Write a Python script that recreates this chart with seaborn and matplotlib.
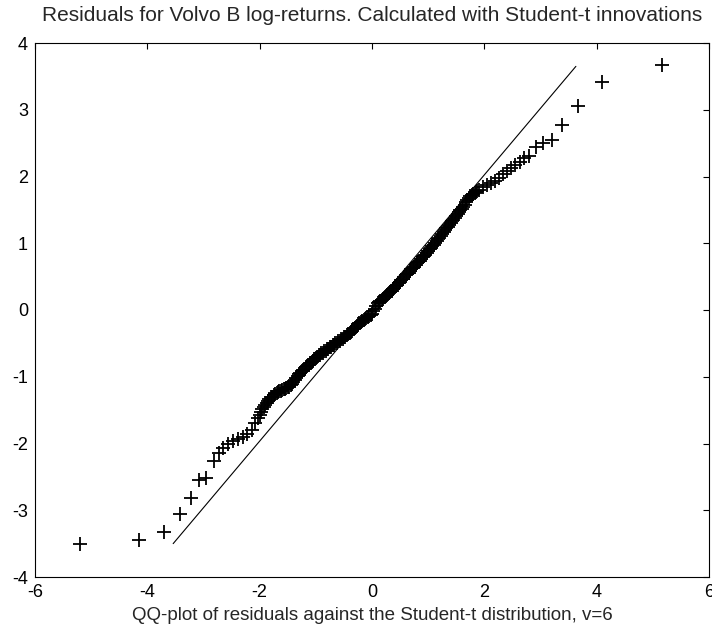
import matplotlib
matplotlib.use("Agg")
import matplotlib.pyplot as plt
import seaborn as sns
import pandas as pd

# Theoretical Student-t quantiles (v=6) and the sorted residuals paired with them
lower_x = [-5.20, -4.14, -3.70, -3.41, -3.23, -3.08, -2.95, -2.82, -2.73, -2.65,
           -2.56, -2.47, -2.38, -2.29, -2.22, -2.14, -2.08, -2.03]
lower_y = [-3.50, -3.45, -3.33, -3.06, -2.82, -2.54, -2.52, -2.26, -2.14, -2.06,
           -2.01, -1.97, -1.94, -1.91, -1.86, -1.80, -1.70, -1.62]

center_x = [-2.000, -1.975, -1.950, -1.925, -1.900, -1.875, -1.850, -1.825, -1.800, -1.775,
            -1.750, -1.725, -1.700, -1.675, -1.650, -1.625, -1.600, -1.575, -1.550, -1.525,
            -1.500, -1.475, -1.450, -1.425, -1.400, -1.375, -1.350, -1.325, -1.300, -1.275,
            -1.250, -1.225, -1.200, -1.175, -1.150, -1.125, -1.100, -1.075, -1.050, -1.025,
            -1.000, -0.975, -0.950, -0.925, -0.900, -0.875, -0.850, -0.825, -0.800, -0.775,
            -0.750, -0.725, -0.700, -0.675, -0.650, -0.625, -0.600, -0.575, -0.550, -0.525,
            -0.500, -0.475, -0.450, -0.425, -0.400, -0.375, -0.350, -0.325, -0.300, -0.275,
            -0.250, -0.225, -0.200, -0.175, -0.150, -0.125, -0.100, -0.075, -0.050, -0.025,
            0.000, 0.025, 0.050, 0.075, 0.100, 0.125, 0.150, 0.175, 0.200, 0.225,
            0.250, 0.275, 0.300, 0.325, 0.350, 0.375, 0.400, 0.425, 0.450, 0.475,
            0.500, 0.525, 0.550, 0.575, 0.600, 0.625, 0.650, 0.675, 0.700, 0.725,
            0.750, 0.775, 0.800, 0.825, 0.850, 0.875, 0.900, 0.925, 0.950, 0.975,
            1.000, 1.025, 1.050, 1.075, 1.100, 1.125, 1.150, 1.175, 1.200, 1.225,
            1.250, 1.275, 1.300, 1.325, 1.350, 1.375, 1.400, 1.425, 1.450, 1.475,
            1.500, 1.525, 1.550, 1.575, 1.600, 1.625, 1.650, 1.675, 1.700, 1.725,
            1.750, 1.775, 1.800, 1.825, 1.850, 1.875, 1.900]
center_y = [-1.58, -1.53, -1.48, -1.45, -1.42, -1.39, -1.36, -1.33, -1.31, -1.30,
            -1.28, -1.26, -1.25, -1.23, -1.22, -1.21, -1.20, -1.19, -1.18, -1.17,
            -1.16, -1.15, -1.13, -1.11, -1.08, -1.05, -1.02, -0.99, -0.96, -0.94,
            -0.92, -0.90, -0.88, -0.86, -0.84, -0.82, -0.80, -0.78, -0.76, -0.74,
            -0.72, -0.70, -0.68, -0.67, -0.65, -0.64, -0.62, -0.61, -0.59, -0.58,
            -0.56, -0.55, -0.53, -0.52, -0.50, -0.49, -0.47, -0.46, -0.44, -0.43,
            -0.41, -0.40, -0.38, -0.36, -0.34, -0.33, -0.31, -0.29, -0.27, -0.24,
            -0.21, -0.20, -0.18, -0.17, -0.15, -0.14, -0.12, -0.11, -0.09, -0.08,
            -0.06, -0.02, 0.02, 0.06, 0.10, 0.12, 0.13, 0.15, 0.17, 0.19,
            0.21, 0.23, 0.25, 0.27, 0.29, 0.31, 0.33, 0.36, 0.38, 0.40,
            0.42, 0.45, 0.47, 0.50, 0.52, 0.54, 0.56, 0.59, 0.61, 0.63,
            0.65, 0.68, 0.70, 0.72, 0.74, 0.77, 0.79, 0.81, 0.83, 0.86,
            0.88, 0.91, 0.93, 0.96, 0.98, 1.01, 1.03, 1.06, 1.08, 1.11,
            1.14, 1.17, 1.20, 1.23, 1.25, 1.28, 1.30, 1.33, 1.35, 1.38,
            1.41, 1.44, 1.47, 1.50, 1.52, 1.55, 1.58, 1.62, 1.65, 1.68,
            1.71, 1.73, 1.74, 1.76, 1.77, 1.79, 1.80]

upper_x = [1.98, 2.05, 2.12, 2.19, 2.26, 2.33, 2.40, 2.47, 2.55, 2.63,
           2.70, 2.80, 2.92, 3.05, 3.20, 3.39, 3.67, 4.10, 5.17]
upper_y = [1.84, 1.87, 1.91, 1.94, 1.98, 2.03, 2.08, 2.12, 2.17, 2.22,
           2.27, 2.30, 2.44, 2.50, 2.55, 2.77, 3.06, 3.41, 3.67]

# Reference line through the quartiles
ref_x = [-3.54, 3.63]
ref_y = [-3.50, 3.65]

x_ticks = [-6, -4, -2, 0, 2, 4, 6]
y_ticks = [-4, -3, -2, -1, 0, 1, 2, 3, 4]

title = "Residuals for Volvo B log-returns. Calculated with Student-t innovations"
xlabel = "QQ-plot of residuals against the Student-t distribution, v=6"

sns.set_style("white")
plt.rcParams["font.family"] = ["Liberation Sans", "DejaVu Sans"]
plt.rcParams["axes.unicode_minus"] = False

qq = pd.DataFrame({
    "theoretical": lower_x + center_x + upper_x,
    "sample": lower_y + center_y + upper_y,
})
ref = pd.DataFrame({"theoretical": ref_x, "sample": ref_y})

fig = plt.figure(figsize=(7.12, 6.32), dpi=100)
ax = fig.add_axes([35 / 712, 1 - 577 / 632, 674 / 712, 534 / 632])

sns.lineplot(data=ref, x="theoretical", y="sample", ax=ax, color="black",
             linewidth=0.8)
sns.scatterplot(data=qq, x="theoretical", y="sample", ax=ax, marker="+",
                s=105, color="black", linewidth=1.3)

ax.set_xlim(-6, 6)
ax.set_ylim(-4, 4)
ax.set_xticks(x_ticks)
ax.set_yticks(y_ticks)
ax.tick_params(direction="in", top=True, right=True, length=4, width=0.8,
               labelsize=13, pad=5, colors="black")
for spine in ax.spines.values():
    spine.set_visible(True)
    spine.set_color("black")
    spine.set_linewidth(0.8)

ax.set_title(title, fontsize=15, pad=16)
ax.set_xlabel(xlabel, fontsize=13.5, labelpad=4)
ax.set_ylabel("")

fig.savefig("out.png", dpi=100, facecolor="white")
